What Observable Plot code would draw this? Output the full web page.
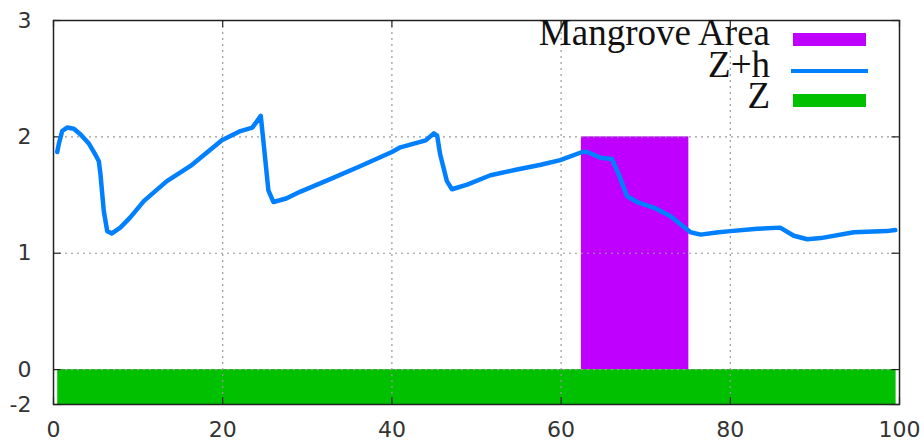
<!DOCTYPE html>
<html>
<head>
<meta charset="utf-8">
<script src="https://cdn.jsdelivr.net/npm/d3@7"></script>
<script src="https://cdn.jsdelivr.net/npm/@observablehq/plot@0.6"></script>
<style>
  body { margin: 0; background: #fff; }
  #wrap { position: relative; width: 924px; height: 444px; }
  #legend { position: absolute; top: 0; left: 0; width: 924px; height: 0; font-family: "Liberation Serif", serif; font-size: 37px; color: #111; }
  .lbl { position: absolute; right: 154px; white-space: nowrap; line-height: 1; }
  .sw { position: absolute; left: 793px; width: 73px; }
</style>
</head>
<body>
<div id="wrap"></div>
<script>
// Z+h water surface profile
const zhX = [0.44,0.63,1.03,1.6,2.4,3.2,4.2,5.0,5.36,5.55,5.95,6.35,6.9,7.9,9.1,10.7,13.4,16.2,19.9,22.1,23.5,24.5,24.8,25.4,26.0,27.5,29.2,32.5,36.3,40.0,41.0,44.0,44.95,45.35,45.7,46.5,47.1,48.9,51.65,54.8,57.6,59.9,62.5,63.1,64.7,66.0,66.8,67.8,69.0,71.0,72.9,75.3,76.5,78.6,80.0,83.2,85.9,87.5,89.1,90.7,94.6,98.5,99.5];
const zhY = [1.87,1.94,2.05,2.08,2.07,2.02,1.94,1.84,1.79,1.68,1.36,1.19,1.17,1.22,1.31,1.45,1.62,1.75,1.97,2.05,2.08,2.18,1.97,1.54,1.44,1.47,1.53,1.63,1.75,1.87,1.91,1.97,2.03,2.01,1.85,1.62,1.55,1.59,1.67,1.72,1.76,1.80,1.87,1.87,1.82,1.81,1.68,1.49,1.44,1.39,1.32,1.18,1.16,1.18,1.19,1.21,1.22,1.15,1.12,1.13,1.18,1.19,1.20];
// Mangrove area and bed Z
const mangrove = [{x1: 62.4, x2: 75.1, y1: 0, y2: 2}];
const bed = [{x1: 0.5, x2: 99.6, y1: -0.3, y2: 0}];
const xTicks = [0, 20, 40, 60, 80, 100];
const yTicks = [-0.3, 0, 1, 2, 3];
const yTickLabels = ["-2", "0", "1", "2", "3"];
const xGrid = [20, 40, 60, 80];
const yGrid = [0, 1, 2];

const line = zhX.map((x, i) => ({x, y: zhY[i]}));
const yLab = new Map(yTicks.map((t, i) => [t, yTickLabels[i]]));

const chart = Plot.plot({
  width: 924, height: 444,
  marginLeft: 53, marginRight: 25, marginTop: 20, marginBottom: 40,
  style: {fontFamily: "DejaVu Sans, sans-serif", fontSize: "22px", color: "#222", background: "#fff"},
  x: {domain: [0, 100]},
  y: {domain: [-0.3, 3]},
  marks: [
    Plot.rect(bed, {x1: "x1", x2: "x2", y1: "y1", y2: "y2", fill: "#00c000"}),
    Plot.rect(mangrove, {x1: "x1", x2: "x2", y1: "y1", y2: "y2", fill: "#c000ff"}),
    Plot.ruleX(xGrid, {stroke: "#9a9a9a", strokeDasharray: "2,4", strokeWidth: 1.2}),
    Plot.ruleY(yGrid, {stroke: "#9a9a9a", strokeDasharray: "2,4", strokeWidth: 1.2}),
    Plot.ruleY(yTicks, {x1: 0, x2: 0.9, stroke: "#222", strokeWidth: 1.2}),
    Plot.ruleY(yTicks, {x1: 99.1, x2: 100, stroke: "#222", strokeWidth: 1.2}),
    Plot.ruleX(xTicks, {y1: -0.3, y2: -0.24, stroke: "#222", strokeWidth: 1.2}),
    Plot.ruleX(xTicks, {y1: 2.94, y2: 3, stroke: "#222", strokeWidth: 1.2}),
    Plot.line(line, {x: "x", y: "y", stroke: "#0080ff", strokeWidth: 4.5, curve: "linear", strokeLinejoin: "round", strokeLinecap: "round"}),
    Plot.frame({stroke: "#222", strokeWidth: 1.5}),
    Plot.axisX(xTicks, {tickSize: 0, tickPadding: 17, fontSize: 22, fill: "#333"}),
    Plot.axisY(yTicks, {tickSize: 0, tickPadding: 22, fontSize: 22, fill: "#333", tickFormat: d => yLab.get(d)})
  ]
});
const wrap = document.getElementById("wrap");
wrap.appendChild(chart);

const legendItems = ["Mangrove Area", "Z+h", "Z"];
const legendColors = ["#c000ff", "#0080ff", "#00c000"];
const legendKinds = ["rect", "line", "rect"];
const lg = document.createElement("div");
lg.id = "legend";
legendItems.forEach((t, i) => {
  const top = 14 + 31.5 * i;
  const l = document.createElement("div");
  l.className = "lbl";
  l.style.top = top + "px";
  l.textContent = t;
  lg.appendChild(l);
  const s = document.createElement("div");
  s.className = "sw";
  s.style.background = legendColors[i];
  if (legendKinds[i] === "line") { s.style.top = (top + 23) + "px"; s.style.height = "4px"; s.style.left = "791px"; s.style.width = "77px"; }
  else { s.style.top = (top + 19 - (i ? 2 : 0)) + "px"; s.style.height = "13px"; }
  lg.appendChild(s);
});
wrap.appendChild(lg);
</script>
</body>
</html>
